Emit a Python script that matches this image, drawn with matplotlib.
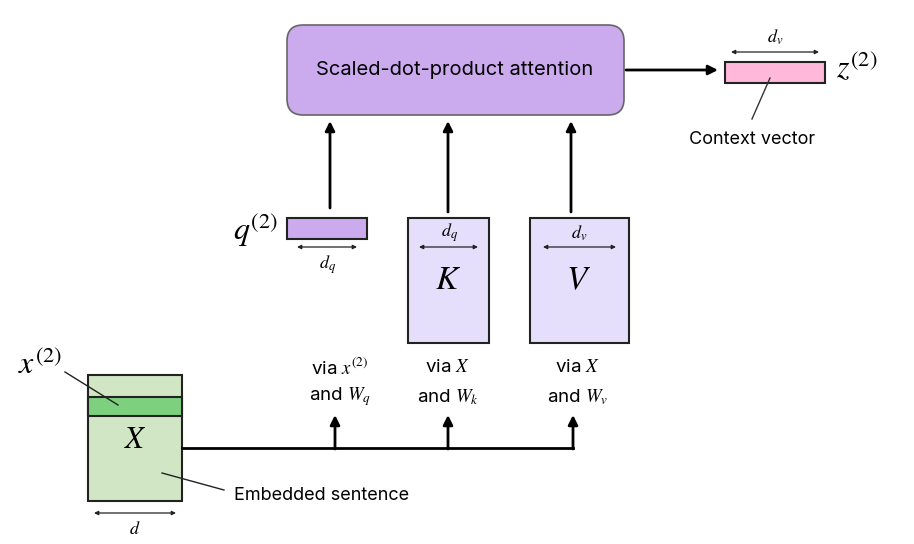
import matplotlib.pyplot as plt
from matplotlib.patches import Rectangle, FancyBboxPatch

plt.rcParams['mathtext.fontset'] = 'stix'
plt.rcParams['font.family'] = ['Inter', 'DejaVu Sans']

# boxes: name -> (x0, y0, x1, y1, fill)
boxes = {
    'q': (287, 218, 367, 239, '#cbaaee'),
    'K': (408, 218, 489, 343, '#e5dffb'),
    'V': (530, 218, 629, 343, '#e5dffb'),
    'z': (725, 62, 825, 83, '#ffb8d9'),
    'X': (88, 375, 182, 501, '#d1e6c4'),
    'x2': (88, 397, 182, 416, '#7dd07d'),
}
# width arrows: (x0, x1, y, label, label_x, label_y)
dims = [
    (297, 357, 247, '$d_q$', 328, 265),
    (419, 478, 247, '$d_q$', 450, 233),
    (543, 616, 247, '$d_v$', 579, 233),
    (731, 819, 52, '$d_v$', 775, 37),
    (94, 176, 513, '$d$', 135, 530),
]
up_arrows = [(330, 208), (448, 212), (571, 212)]
branch_x = [335, 448, 573]
via_labels = [(340, 'via $x^{(2)}$', 'and $W_q$'),
              (448, 'via $X$', 'and $W_k$'),
              (578, 'via $X$', 'and $W_v$')]

fig = plt.figure(figsize=(9.14, 5.44), dpi=100)
ax = fig.add_axes([0, 0, 1, 1])
ax.set_xlim(0, 914)
ax.set_ylim(544, 0)
ax.axis('off')

att = FancyBboxPatch((287, 25), 337, 90, boxstyle='round,pad=0,rounding_size=16',
                     fc='#cbaaee', ec='#666666', lw=1.2)
ax.add_patch(att)
ax.text(455, 70, 'Scaled-dot-product attention', ha='center', va='center', fontsize=14.5)

for x0, y0, x1, y1, c in boxes.values():
    ax.add_patch(Rectangle((x0, y0), x1 - x0, y1 - y0, fc=c, ec='#222222', lw=1.5))

arr = dict(arrowstyle='-|>', color='black', lw=2, mutation_scale=14, shrinkA=0, shrinkB=0)
ax.annotate('', xy=(718, 70), xytext=(626, 70), arrowprops=arr)
for x, y in up_arrows:
    ax.annotate('', xy=(x, 121), xytext=(x, y), arrowprops=arr)

for x0, x1, y, lab, lx, ly in dims:
    ax.annotate('', xy=(x1, y), xytext=(x0, y),
                arrowprops=dict(arrowstyle='<|-|>', color='#222222', lw=0.9, mutation_scale=6,
                                shrinkA=0, shrinkB=0))
    ax.text(lx, ly, lab, ha='center', va='center', fontsize=13)

ax.text(857, 68, '$z^{(2)}$', ha='center', va='center', fontsize=23)
ax.text(255, 230, '$q^{(2)}$', ha='center', va='center', fontsize=23)
ax.text(448, 280, '$K$', ha='center', va='center', fontsize=24)
ax.text(578, 280, '$V$', ha='center', va='center', fontsize=24)
ax.text(135, 440, '$X$', ha='center', va='center', fontsize=22)
ax.text(40, 365, '$x^{(2)}$', ha='center', va='center', fontsize=23)

ax.plot([770, 752], [78, 119], color='#333333', lw=1)
ax.text(752, 140, 'Context vector', ha='center', va='center', fontsize=13)
ax.plot([65, 118], [372, 405], color='#222222', lw=1)
ax.plot([162, 224], [473, 490], color='#222222', lw=1)
ax.text(234, 495, 'Embedded sentence', ha='left', va='center', fontsize=13)

ax.plot([182, 573], [448, 448], color='black', lw=2)
for x in branch_x:
    ax.annotate('', xy=(x, 415), xytext=(x, 449), arrowprops=arr)
for x, l1, l2 in via_labels:
    ax.text(x, 368, l1, ha='center', va='center', fontsize=13.5)
    ax.text(x, 397, l2, ha='center', va='center', fontsize=13.5)

fig.savefig('out.png', dpi=100)
